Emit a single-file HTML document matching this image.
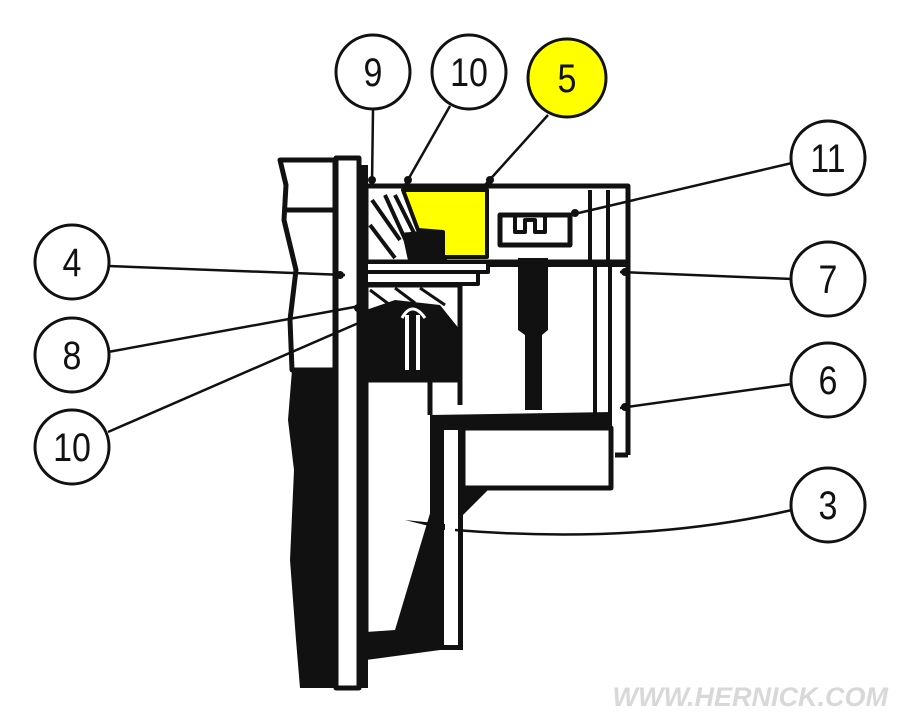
<!DOCTYPE html>
<html><head><style>
html,body{margin:0;padding:0;background:#fff;}
svg{display:block;}
text{font-family:"Liberation Sans",sans-serif;}
</style></head><body>
<svg width="900" height="720" viewBox="0 0 900 720" xmlns="http://www.w3.org/2000/svg">
<rect width="900" height="720" fill="#fff"/>
<g stroke="#111" fill="none" stroke-width="5" stroke-linejoin="round">
  <!-- left big black casting -->
  <path d="M292,370 L338,370 L338,688 L300,688 L296,640 L290,560 L294,470 L288,420 Z" fill="#111" stroke="none"/>
  <!-- left strip outline top -->
  <path d="M280,160 L335,160 L335,370 L292,370 L290,320 L296,270 L284,220 L286,185 Z" fill="#fff"/>
  <line x1="284" y1="210" x2="335" y2="210"/>
  <!-- vertical white bar -->
  <rect x="336" y="158" width="23" height="530" fill="#fff"/>
  <line x1="364" y1="165" x2="364" y2="688" stroke-width="8"/>
  <!-- top box -->
  <rect x="366" y="186" width="262" height="76" fill="#fff"/>
  <!-- hatched seal block left -->
  <g stroke-width="4">
    <line x1="372" y1="200" x2="400" y2="240"/>
    <line x1="370" y1="225" x2="395" y2="258"/>
    <line x1="385" y1="195" x2="410" y2="250"/>
    <line x1="395" y1="195" x2="420" y2="245"/>
  </g>
  <path d="M405,235 L440,232 L445,258 L410,258 Z" fill="#111"/>
  <!-- yellow part -->
  <path d="M403,190 L487,190 L487,257 L443,257 L443,232 L418,230 Z" fill="#ffff00" stroke="#111" stroke-width="4"/>
  <!-- 11 part -->
  <rect x="500" y="215" width="70" height="30" fill="#fff" stroke-width="5"/>
  <path d="M515,215 L515,232 L525,232 L525,220 L535,220 L535,232 L545,232 L545,215" stroke-width="4"/>
  <line x1="590" y1="190" x2="590" y2="262" stroke-width="4"/>
  <line x1="608" y1="190" x2="608" y2="262" stroke-width="4"/>
  <!-- plate strips -->
  <rect x="366" y="262" width="122" height="10" fill="#fff" stroke-width="4"/>
  <rect x="366" y="272" width="112" height="12" fill="#fff" stroke-width="4"/>
  <line x1="488" y1="265" x2="628" y2="265" stroke-width="4"/>
  <!-- hatched lower seal + black block -->
  <path d="M366,285 L460,285 L460,380 L366,380 Z" fill="#fff"/>
  <path d="M366,310 L395,300 L440,305 L460,330 L460,380 L366,380 Z" fill="#111" stroke="none"/>
  <path d="M407,315 L407,370 M418,315 L418,370" stroke="#fff" stroke-width="4"/>
  <path d="M402,318 Q412,300 425,318" stroke="#fff" stroke-width="3"/>
  <g stroke-width="3"><line x1="370" y1="290" x2="390" y2="305"/><line x1="395" y1="288" x2="415" y2="303"/><line x1="420" y1="288" x2="445" y2="305"/></g>
  <!-- stem -->
  <path d="M518,258 L548,258 L548,330 L542,335 L542,410 L525,410 L525,335 L518,330 Z" fill="#111" stroke="none"/>
  <!-- right verticals -->
  <line x1="595" y1="262" x2="595" y2="415" stroke-width="4"/>
  <line x1="610" y1="262" x2="610" y2="430" stroke-width="4"/>
  <line x1="628" y1="186" x2="628" y2="455" stroke-width="5"/>
  <line x1="615" y1="455" x2="628" y2="455" stroke-width="5"/>
  <!-- inner rect white area -->
  <line x1="460" y1="380" x2="460" y2="405" stroke-width="5"/>
  <!-- bottom black L -->
  <path d="M430,415 L612,412 L612,428 L463,428 L463,650 L430,650 Z" fill="#111" stroke="none"/>
  <rect x="444" y="430" width="14" height="215" fill="#fff" stroke="none"/>
  <rect x="463" y="428" width="148" height="60" fill="#fff" stroke-width="5"/>
  <path d="M463,488 L490,488 L463,515 Z" fill="#111" stroke="none"/>
  <!-- lower diagonal black -->
  <path d="M440,480 L440,650 L366,660 L366,632 L395,630 Z" fill="#111" stroke="none"/>
  <path d="M366,380 L366,632" />
  <line x1="366" y1="380" x2="430" y2="380" stroke-width="5"/>
  <line x1="430" y1="380" x2="430" y2="415" stroke-width="5"/>
</g>
<!-- leader lines -->
<g stroke="#111" stroke-width="2.5" fill="none">
  <line x1="373" y1="110" x2="372" y2="185"/>
  <line x1="450" y1="106" x2="405" y2="185"/>
  <line x1="548" y1="115" x2="485" y2="185"/>
  <line x1="792" y1="163" x2="570" y2="215"/>
  <line x1="108" y1="266" x2="345" y2="275"/>
  <line x1="792" y1="279" x2="620" y2="272"/>
  <line x1="108" y1="352" x2="360" y2="306"/>
  <line x1="108" y1="432" x2="370" y2="318"/>
  <line x1="792" y1="384" x2="620" y2="408"/>
  <path d="M792,510 Q640,545 455,530"/>
</g>
<g fill="#111">
  <circle cx="372" cy="180" r="4"/><circle cx="408" cy="180" r="4"/><circle cx="490" cy="180" r="4"/>
  <circle cx="575" cy="213" r="4"/><circle cx="340" cy="275" r="4"/><circle cx="625" cy="272" r="4"/>
  <circle cx="358" cy="308" r="4"/><circle cx="365" cy="320" r="4"/><circle cx="625" cy="407" r="4"/>
  <path d="M405,520 L445,524 L445,530 Z"/>
</g>
<!-- circles -->
<g stroke="#111" stroke-width="3" fill="#fff">
  <circle cx="373" cy="72" r="37"/>
  <circle cx="469" cy="72" r="37"/>
  <circle cx="567" cy="78" r="39" fill="#ffff00"/>
  <circle cx="828" cy="158" r="37"/>
  <circle cx="72" cy="262" r="37"/>
  <circle cx="828" cy="279" r="37"/>
  <circle cx="72" cy="355" r="37"/>
  <circle cx="828" cy="380" r="37"/>
  <circle cx="72" cy="447" r="37"/>
  <circle cx="828" cy="505" r="37"/>
</g>
<g font-size="40" text-anchor="middle" fill="#111" transform="scale(0.85,1)">
  <text x="438.8" y="86">9</text>
  <text x="551.8" y="86">10</text>
  <text x="667" y="92">5</text>
  <text x="974" y="172">11</text>
  <text x="84.7" y="276">4</text>
  <text x="974" y="293">7</text>
  <text x="84.7" y="369">8</text>
  <text x="974" y="394">6</text>
  <text x="84.7" y="461">10</text>
  <text x="974" y="519">3</text>
</g>
<text x="888" y="706" text-anchor="end" font-size="27" font-weight="bold" font-style="italic" fill="#d8d8d8">WWW.HERNICK.COM</text>
</svg>
</body></html>
